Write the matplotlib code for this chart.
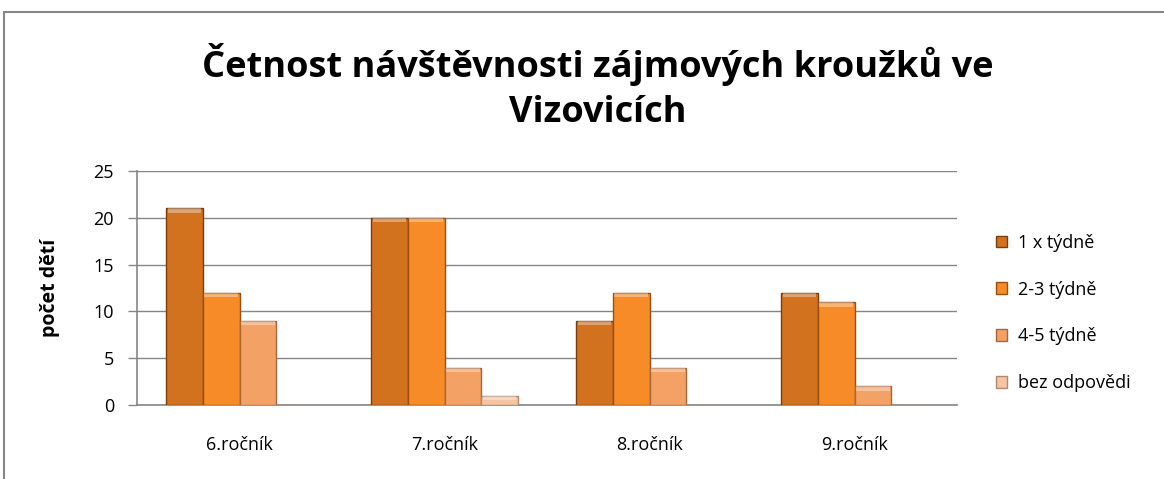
import numpy as np
import matplotlib
matplotlib.use('Agg')
import matplotlib.pyplot as plt
from matplotlib.patches import Rectangle

plt.rcParams['font.family'] = ['Open Sans', 'DejaVu Sans']

categories = ['6.ročník', '7.ročník', '8.ročník', '9.ročník']
series_names = ['1 x týdně', '2-3 týdně', '4-5 týdně', 'bez odpovědi']
once_week = [21, 20, 9, 12]
two_three = [12, 20, 12, 11]
four_five = [9, 4, 4, 2]
no_answer = [0, 1, 0, 0]
yticks = [0, 5, 10, 15, 20, 25]

values = [once_week, two_three, four_five, no_answer]
colors = ['#D2721F', '#F68B27', '#F4A166', '#F5C4A2']
edges = ['#7A3D0B', '#9A4E10', '#A8663A', '#B08A70']

fig = plt.figure(figsize=(11.64, 4.79), dpi=100)
# outer chart frame (cut at right/bottom like the reference)
fig.patches.append(Rectangle((4 / 1164, -0.1), 1.2, (479 - 12) / 479 + 0.1,
                             transform=fig.transFigure, fill=False,
                             edgecolor='#878787', linewidth=1.5))

ax = fig.add_axes([137 / 1164, 1 - 405 / 479, 820 / 1164, (405 - 171) / 479])
x = np.arange(len(categories))
w = 0.18
for i, (vals, c, ec) in enumerate(zip(values, colors, edges)):
    pos = x + (i - 1.5) * w
    ax.bar(pos, vals, w, color=c, edgecolor=ec, linewidth=1.0,
           label=series_names[i], zorder=3)
    # light bevel at bar tops
    ax.bar(pos, [min(0.5, v) for v in vals], w * 0.9,
           bottom=[v - min(0.5, v) for v in vals],
           color='white', alpha=0.35, linewidth=0, zorder=4)

ax.set_xlim(-0.5, 3.5)
ax.set_ylim(0, 25)
ax.set_yticks(yticks)
ax.set_xticks(x)
ax.set_xticklabels(categories)
ax.tick_params(axis='x', length=0, pad=22, labelsize=13, colors='black')
ax.tick_params(axis='y', length=6.5, width=1, color='#868686', labelsize=13, pad=10)
ax.yaxis.grid(True, color='#868686', linewidth=1)
ax.set_axisbelow(True)
for s in ['top', 'right']:
    ax.spines[s].set_visible(False)
ax.spines['left'].set_color('#868686')
ax.spines['bottom'].set_color('#868686')
ax.spines['left'].set_linewidth(1.2)
ax.spines['bottom'].set_linewidth(1.2)
ax.set_ylabel('počet dětí', fontsize=14, fontweight='bold', labelpad=24)

fig.text(598 / 1164, 1 - 65 / 479, 'Četnost návštěvnosti zájmových kroužků ve',
         ha='center', va='center', fontsize=26, fontweight='bold')
fig.text(598 / 1164, 1 - 113 / 479, 'Vizovicích',
         ha='center', va='center', fontsize=26, fontweight='bold')

handles, labels = ax.get_legend_handles_labels()
leg = fig.legend(handles[:4], labels[:4], loc='center left',
                 bbox_to_anchor=(980 / 1164, 1 - 313 / 479), frameon=False,
                 fontsize=13, handlelength=0.6, handleheight=0.6,
                 handletextpad=0.6, labelspacing=1.6)

fig.savefig('out.png', dpi=100)
